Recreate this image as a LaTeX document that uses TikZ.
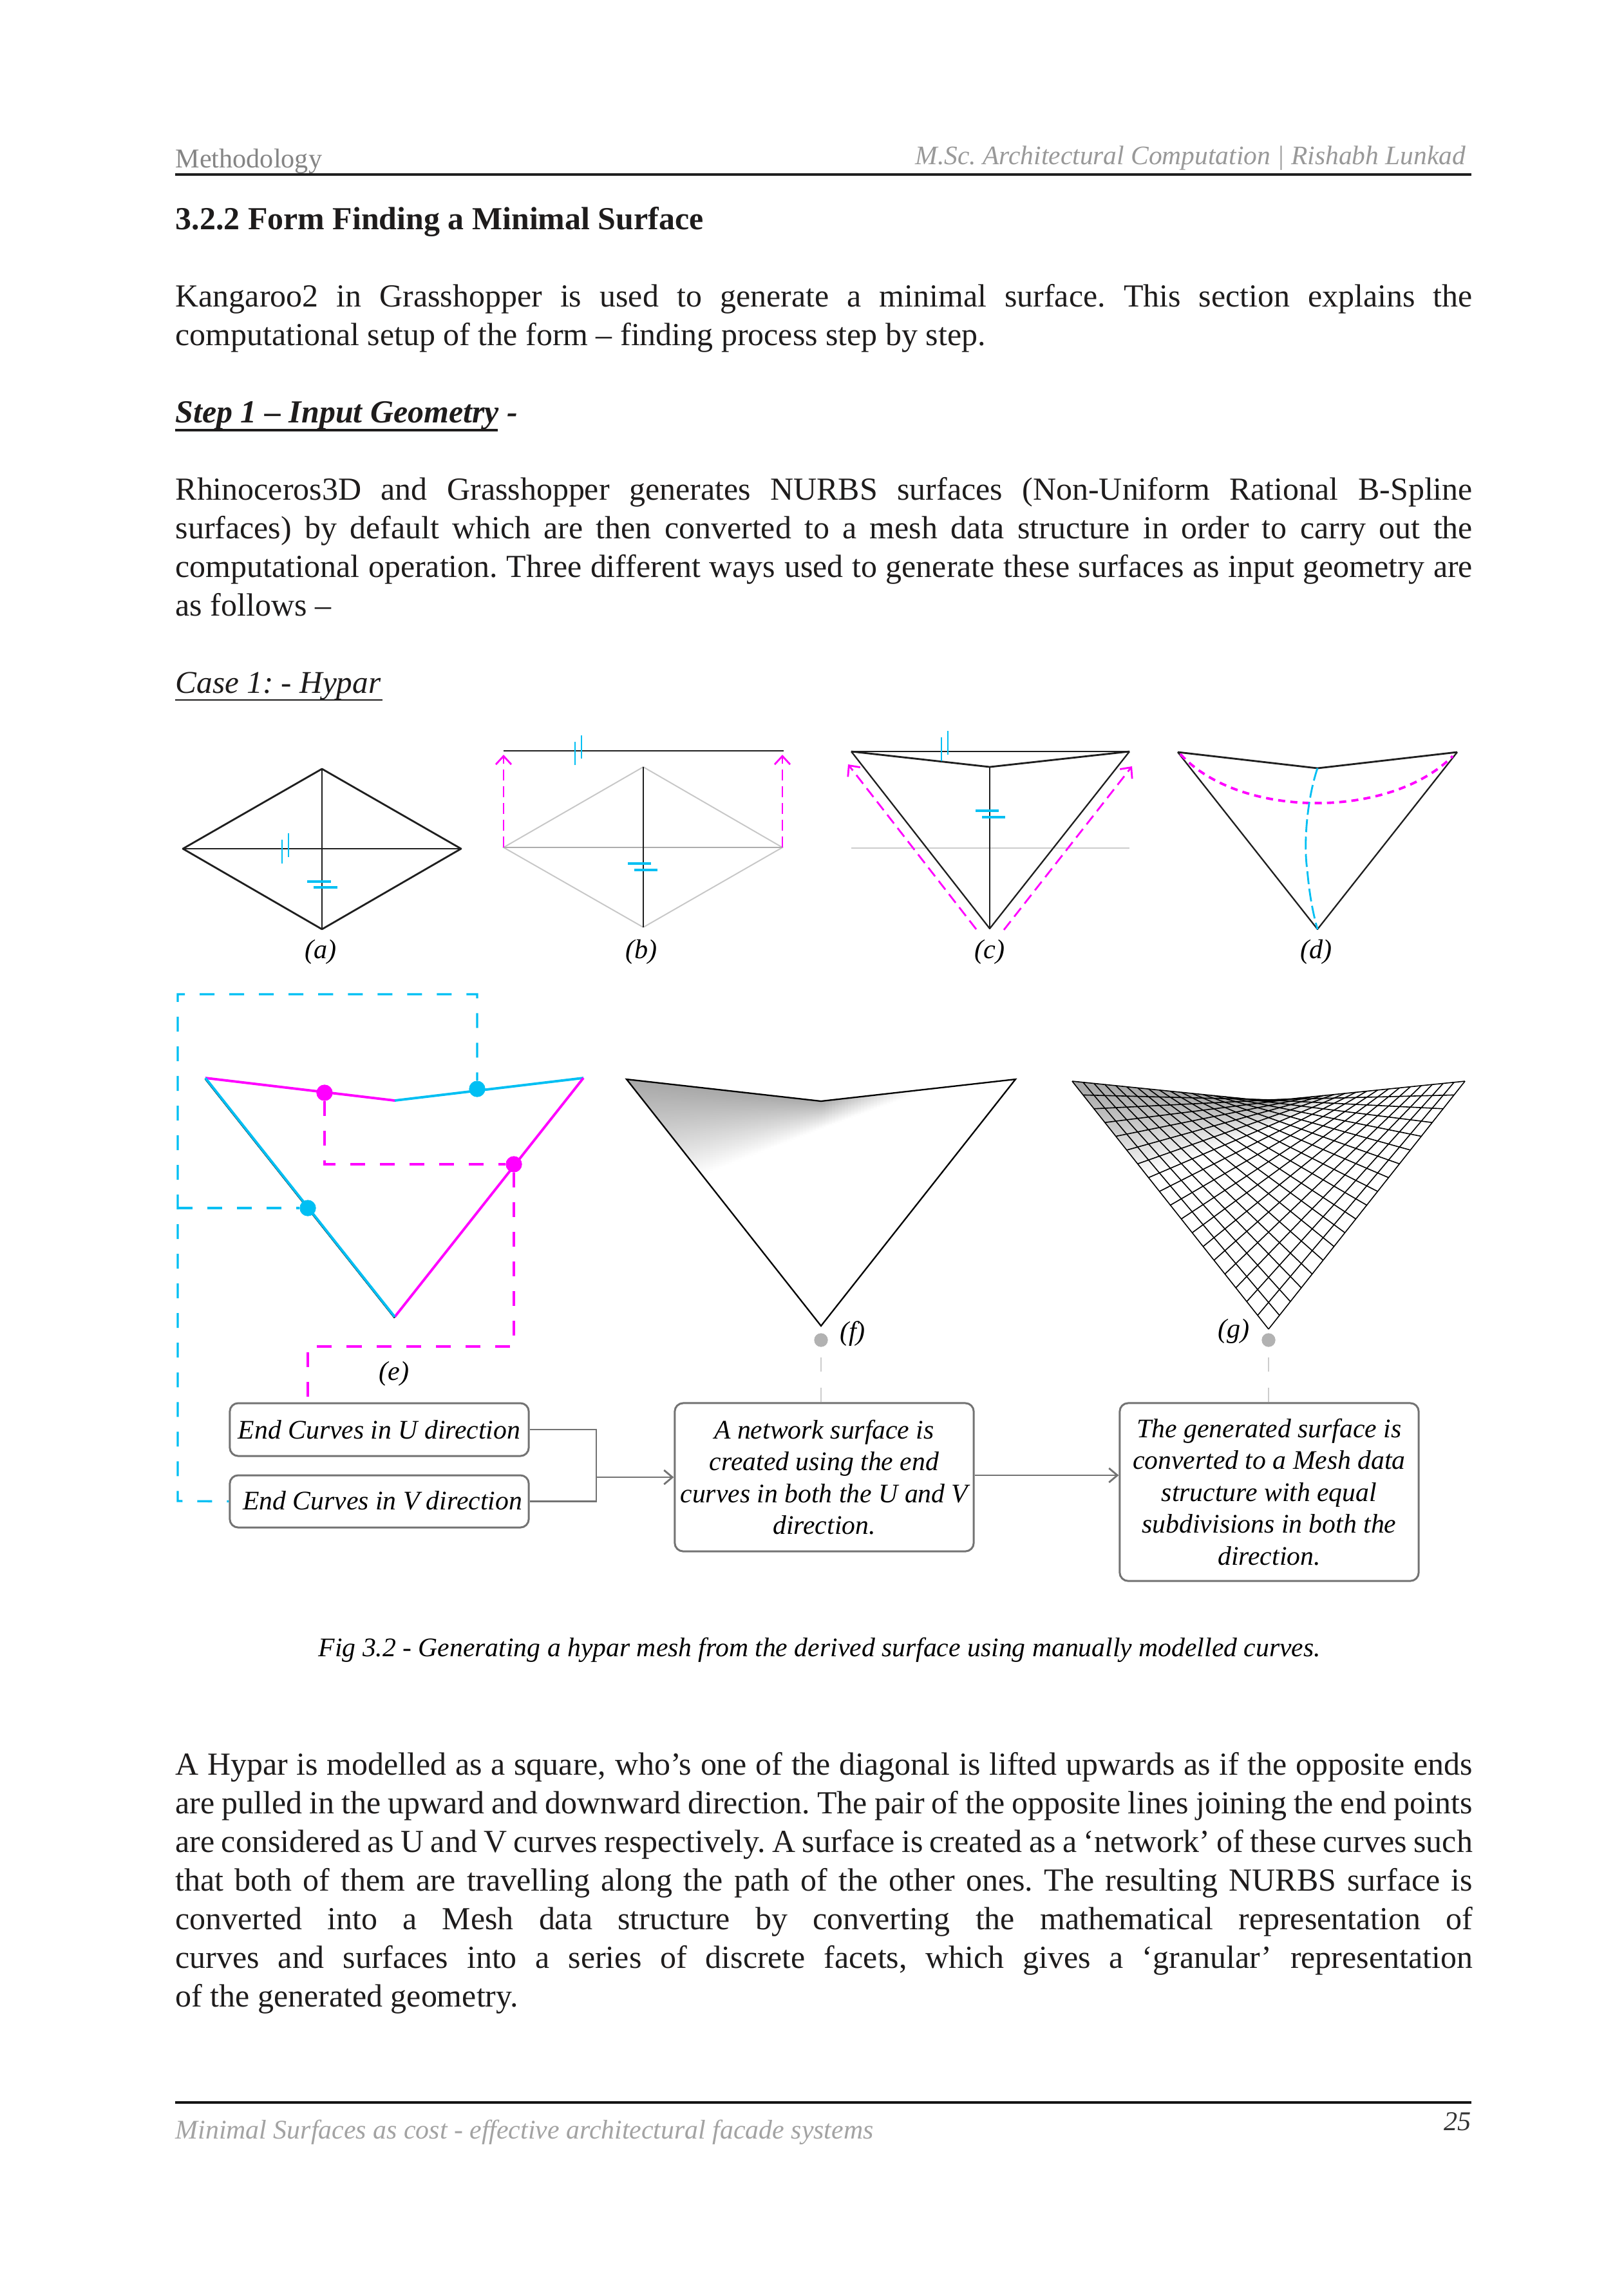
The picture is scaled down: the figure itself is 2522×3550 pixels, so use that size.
\documentclass[tikz,border=0pt]{standalone}
\usepackage{fontspec}
\setmainfont{Liberation Serif}
\usetikzlibrary{calc,arrows.meta}
\AtBeginDocument{\frenchspacing}
\definecolor{cy}{HTML}{00BFF3}
\definecolor{mg}{HTML}{FF00FF}
\definecolor{bodyc}{HTML}{1E1C1C}
\tikzset{
  txt/.style={inner sep=0pt,anchor=base west,text=bodyc,font=\fontsize{14.2}{17}\selectfont},
  lab/.style={inner sep=0pt,anchor=base,text=black,font=\fontsize{12}{14}\selectfont\itshape},
  bline/.style={draw=black!88,line width=0.8pt,line join=round},
  tbar/.style={cy,line width=0.8pt},
  tick/.style={cy,line width=1pt},
  mgarrow/.style={mg,line width=0.8pt,dash pattern=on 0.17cm off 0.09cm,-{Straight Barb[length=0.13cm,width=0.24cm]}},
  cdash/.style={cy,line width=0.95pt,dash pattern=on 0.23cm off 0.23cm},
  mdash/.style={mg,line width=1.15pt,dash pattern=on 0.23cm off 0.23cm},
  edge/.style={line width=1.1pt},
  dotnode/.style={circle,inner sep=0pt,minimum size=0.25cm,fill=#1},
  gdot/.style={circle,inner sep=0pt,minimum size=0.21cm,fill=black!30},
  gdash/.style={black!20,line width=0.8pt,dash pattern=on 0.22cm off 0.25cm},
  flowbox/.style={draw=black!55,line width=0.85pt,rounded corners=0.13cm,fill=white,align=center,inner sep=0pt,text=black,
     font=\fontsize{11.85}{14.08}\selectfont\itshape},
  flow/.style={draw=black!55,line width=0.8pt},
  flowarrow/.style={flow,-{Straight Barb[length=0.13cm,width=0.22cm]}},
  hyparline/.style={black,line width=0.65pt,line join=miter},
  meshline/.style={black,line width=0.45pt},
}
\newcommand{\jl}[3]{\node[txt] (#1) at (272,#2) {\makebox[20.13cm][s]{#3}};}
\newcommand{\nl}[3]{\node[txt] (#1) at (272,#2) {#3};}
\newcommand{\hyparshade}{%
  \foreach \xx in {973,978,...,1430}{%
    \pgfmathsetmacro{\ytop}{\xx<1275 ? 1676+0.1126*(\xx-973) : 1710-0.1126*(\xx-1275)}%
    \pgfmathsetmacro{\ell}{\xx<1275 ? 194-0.503*(\xx-973) : max(4,42-0.25*(\xx-1275))}%
    \pgfmathsetmacro{\amt}{\xx<1275 ? 35+1*(\xx-973)/302 : max(0,36*(1-(\xx-1275)/160))}%
    \pgfmathsetmacro{\amtm}{0.42*\amt}%
    \shade[top color=black!\amt!white,middle color=black!\amtm!white,bottom color=white]
      (\xx-1,\ytop-4) rectangle (\xx+6,\ytop+\ell);
  }%
}
\begin{document}
\begin{tikzpicture}[x=0.01cm,y=-0.01cm]
\useasboundingbox (0,0) rectangle (2522,3550);
\fill[white] (0,0) rectangle (2522,3550);

% header
\node[txt,text=black!48,font=\fontsize{12}{14}\selectfont] (hl) at (272,260) {Methodology};
\node[txt,anchor=base east,text=black!40,font=\fontsize{11.8}{14}\selectfont\itshape] (hr) at (2277,255) {M.Sc. Architectural Computation | Rishabh Lunkad};
\draw[black!88,line width=0.95pt] (272,271) -- (2285,271);
\node[txt,font=\fontsize{14.2}{18}\selectfont\bfseries] (head) at (272,356) {3.2.2 Form Finding a Minimal Surface};

\jl{p1a}{476}{Kangaroo2 in Grasshopper is used to generate a minimal surface. This section explains the}
\nl{p1b}{536}{computational setup of the form – finding process step by step.}
\node[txt,font=\fontsize{14.2}{18}\selectfont\bfseries\itshape] (stp) at (272,656) {Step 1 – Input Geometry -};
\draw[bodyc,line width=0.95pt] (272,668) -- (773,668);

\jl{p2a}{776}{Rhinoceros3D and Grasshopper generates NURBS surfaces (Non-Uniform Rational B-Spline}
\jl{p2b}{836}{surfaces) by default which are then converted to a mesh data structure in order to carry out the}
\jl{p2c}{896}{computational operation. Three different ways used to generate these surfaces as input geometry are}
\nl{p2d}{956}{as follows –}
\node[txt,font=\fontsize{14}{17}\selectfont\itshape] (cs) at (272,1076) {Case 1: - Hypar};
\draw[bodyc,line width=0.6pt] (272,1087) -- (594,1087);

% (a)
\coordinate (aL) at (284,1318); \coordinate (aR) at (716,1318);
\coordinate (aT) at (500,1194); \coordinate (aB) at (500,1443);
\draw[bline] (aL) -- (aT) -- (aR) -- (aB) -- cycle;
\draw[bline,line width=0.65pt] (aT) -- (aB);
\draw[bline] (aL) -- (aR);
\draw[tbar] (438,1304) -- (438,1341);
\draw[tbar] (448,1294) -- (448,1331);
\draw[tick] (477,1369) -- (514,1369);
\draw[tick] (487,1378) -- (524,1378);
\node[lab] (la) at (498,1488) {(a)};

% (b)
\coordinate (bL) at (782,1316); \coordinate (bR) at (1215,1316);
\coordinate (bT) at (999,1191); \coordinate (bB) at (999,1440);
\draw[black!22,line width=0.55pt] (bL) -- (bT) -- (bR) -- (bB) -- cycle;
\draw[black!32,line width=0.75pt] (bL) -- (bR);
\draw[bline,line width=0.65pt] (bT) -- (bB);
\draw[bline] (782,1166) -- (1217,1166);
\draw[mgarrow] (bL) -- (782,1172);
\draw[mgarrow] (bR) -- (1215,1172);
\draw[tbar] (893,1152) -- (893,1188);
\draw[tbar] (903,1142) -- (903,1178);
\draw[tick] (975,1341) -- (1011,1341);
\draw[tick] (985,1351) -- (1021,1351);
\node[lab] (lb) at (996,1488) {(b)};

% (c)
\coordinate (cL) at (1322,1167); \coordinate (cR) at (1754,1167);
\coordinate (cT) at (1537,1191); \coordinate (cB) at (1537,1442);
\draw[black!20,line width=0.65pt] (1322,1317) -- (1754,1317);
\draw[bline] (cL) -- (cR);
\draw[bline] (cL) -- (cT) -- (cR);
\draw[bline,line width=0.65pt] (cL) -- (cB) -- (cR);
\draw[bline,line width=0.65pt] (cT) -- (cB);
\draw[mgarrow] (1516,1443) -- (1317,1187);
\draw[mgarrow] (1559,1444) -- (1758,1190);
\draw[tbar] (1462,1145) -- (1462,1182);
\draw[tbar] (1472,1135) -- (1472,1172);
\draw[tick] (1515,1259) -- (1551,1259);
\draw[tick] (1525,1269) -- (1561,1269);
\node[lab] (lc) at (1537,1488) {(c)};

% (d)
\coordinate (dL) at (1829,1168); \coordinate (dR) at (2263,1168);
\coordinate (dT) at (2046,1193); \coordinate (dB) at (2046,1443);
\draw[bline] (dL) -- (dT) -- (dR);
\draw[bline,line width=0.65pt] (dL) -- (dB) -- (dR);
\draw[mg,line width=1.1pt,dash pattern=on 0.11cm off 0.08cm] (1833,1171) .. controls (1925,1272) and (2160,1272) .. (2256,1174);
\draw[cy,line width=0.8pt,dash pattern=on 0.2cm off 0.07cm] (dT) .. controls (2030,1240) and (2024,1310) .. (2030,1350) .. controls (2033,1385) and (2038,1415) .. (dB);
\node[lab] (ld) at (2044,1488) {(d)};

% flow boxes
\node[flowbox,minimum width=4.64cm,minimum height=0.82cm] (U) at (589,2220) {End Curves in U direction};
\node[flowbox,minimum width=4.64cm,minimum height=0.81cm] (V) at (589,2331.5) {\hspace{0.1cm}\raisebox{0.03cm}{End Curves in V direction}};
\node[flowbox,minimum width=4.64cm,minimum height=2.30cm] (A) at (1280,2294) {A network surface is\\created using the end\\curves in both the U and V\\direction.};
\node[flowbox,minimum width=4.64cm,minimum height=2.76cm] (B) at (1971,2317) {The generated surface is\\converted to a Mesh data\\structure with equal\\subdivisions in both the\\direction.};

% (e)
\coordinate (eL) at (319,1674); \coordinate (eR) at (906,1674);
\coordinate (eM) at (613,1709); \coordinate (eB) at (613,2045);
\draw[black,line width=0.8pt] ($(eL)+(0,1.5)$) -- ($(eB)+(0,1.5)$);
\draw[mg,edge] (eL) -- (eM);
\draw[cy,edge] (eM) -- (eR);
\draw[mg,edge] (eR) -- (eB);
\draw[cy,edge] (eB) -- (eL);
\node[dotnode=mg] (dm1) at (504,1697) {};
\node[dotnode=cy] (dc1) at (741,1691) {};
\node[dotnode=mg] (dm2) at (798,1808) {};
\node[dotnode=cy] (dc2) at (478,1876) {};
\coordinate (cTL) at (276,1544);
\coordinate (cMid) at (276,1876);
\coordinate (cBL) at (276,2331);
\coordinate (mB) at (478,2091);
\draw[cdash,dash phase=0.2cm] (V.west) -- (cBL) -- (cTL) -| (dc1);
\draw[cdash] (cMid) -- (dc2);
\draw[mdash] (dm1) |- (dm2);
\draw[mdash] (dm2) |- (mB) -- (mB |- U.north);
\node[dotnode=mg] at (dm1) {};
\node[dotnode=cy] at (dc1) {};
\node[dotnode=mg] at (dm2) {};
\node[dotnode=cy] at (dc2) {};
\node[lab] (le) at (612,2143) {(e)};

% flow connectors
\coordinate (j) at (926,2294);
\draw[flow] (U.east) -| (j);
\draw[flow] (V.east) -| (j);
\draw[flowarrow] (j) -- (A.west);
\draw[flowarrow] ($(A.east)+(0,-3)$) -- ($(A.east -| B.west)+(0,-3)$);

% (f)
\coordinate (fL) at (973,1676); \coordinate (fR) at (1577,1676);
\coordinate (fM) at (1275,1710); \coordinate (fB) at (1275,2059);
\begin{scope}
  \clip (fL) -- (fM) -- (fR) -- (fB) -- cycle;
  \hyparshade
\end{scope}
\draw[hyparline] (fL) -- (fM) -- (fR) -- (fB) -- cycle;
\node[gdot] (fdot) at (1275,2081) {};
\draw[gdash] (fdot |- A.north) -- (fdot);
\node[gdot] at (fdot) {};
\node[lab] (lf) at (1324,2081) {(f)};

% (g)
\coordinate (gL) at (1665,1679); \coordinate (gR) at (2275,1679);
\coordinate (gM) at (1970,1710); \coordinate (gB) at (1970,2064);
\begin{scope}
  \clip (gL) -- (gM) -- (gR) -- (gB) -- cycle;
  \begin{scope}[shift={(692,3)}]
    \hyparshade
  \end{scope}
\end{scope}
\foreach \i in {0,...,18}{
  \draw[meshline] ($(gL)!{\i/18}!(gB)$) -- ($(gM)!{\i/18}!(gR)$);
  \draw[meshline] ($(gL)!{\i/18}!(gM)$) -- ($(gB)!{\i/18}!(gR)$);
}
\node[gdot] (gdotn) at (1970,2081) {};
\draw[gdash] (gdotn |- B.north) -- (gdotn);
\node[gdot] at (gdotn) {};
\node[lab] (lg) at (1916,2077) {(g)};

% caption
\node[txt,text=black,font=\fontsize{11.85}{15}\selectfont\itshape] (cap) at (494,2572) {Fig 3.2 - Generating a hypar mesh from the derived surface using manually modelled curves.};

% last paragraph
\jl{p3a}{2756}{A Hypar is modelled as a square, who’s one of the diagonal is lifted upwards as if the opposite ends}
\jl{p3b}{2816}{are pulled in the upward and downward direction. The pair of the opposite lines joining the end points}
\jl{p3c}{2876}{are considered as U and V curves respectively. A surface is created as a ‘network’ of these curves such}
\jl{p3d}{2936}{that both of them are travelling along the path of the other ones. The resulting NURBS surface is}
\jl{p3e}{2996}{converted into a Mesh data structure by converting the mathematical representation of}
\jl{p3f}{3056}{curves and surfaces into a series of discrete facets, which gives a ‘granular’ representation}
\nl{p3g}{3116}{of the generated geometry.}

% footer
\draw[black!92,line width=1pt] (272,3265) -- (2285,3265);
\node[txt,text=black!36,font=\fontsize{11.9}{15}\selectfont\itshape] (ft) at (272,3321) {Minimal Surfaces as cost - effective architectural facade systems};
\node[txt,anchor=base east,text=black!80,font=\fontsize{12}{15}\selectfont\itshape] (pg) at (2285,3308) {25};
\end{tikzpicture}
\end{document}
